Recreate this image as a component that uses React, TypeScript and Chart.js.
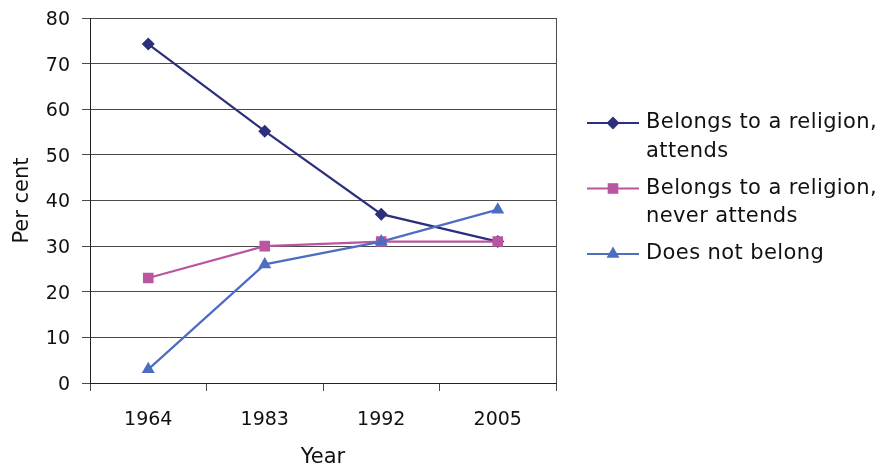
import React, { useEffect, useRef } from "react";
import { Chart, registerables } from "chart.js";

Chart.register(...registerables);

const years = ["1964", "1983", "1992", "2005"];
const attends = [74.3, 55.2, 37, 31];
const neverAttends = [23, 30, 31, 31];
const doesNotBelong = [3, 26, 31, 38];
const seriesLabels = [
  ["Belongs to a religion,", "attends"],
  ["Belongs to a religion,", "never attends"],
  ["Does not belong"],
];
const yMin = 0;
const yMax = 80;
const yStep = 10;
const xTitle = "Year";
const yTitle = "Per cent";

const NAVY = "#2C2F7C";
const PINK = "#BA55A0";
const BLUE = "#4D6EC0";
const GRID = "#4a4a4a";
const FONT = "'DejaVu Sans', sans-serif";

function drawMarker(ctx: CanvasRenderingContext2D, style: string, x: number, y: number, r: number, color: string) {
  ctx.save();
  ctx.fillStyle = color;
  ctx.beginPath();
  if (style === "rectRot") {
    ctx.moveTo(x, y - r);
    ctx.lineTo(x + r, y);
    ctx.lineTo(x, y + r);
    ctx.lineTo(x - r, y);
  } else if (style === "rect") {
    const s = Math.SQRT1_2 * r;
    ctx.rect(x - s, y - s, 2 * s, 2 * s);
  } else {
    ctx.moveTo(x, y - r);
    ctx.lineTo(x + r * Math.sin(Math.PI / 3), y + r / 2);
    ctx.lineTo(x - r * Math.sin(Math.PI / 3), y + r / 2);
  }
  ctx.closePath();
  ctx.fill();
  ctx.restore();
}

const frameAndLegend = {
  id: "frameAndLegend",
  beforeDatasetsDraw(chart: any) {
    const { ctx, chartArea } = chart;
    ctx.save();
    ctx.strokeStyle = GRID;
    ctx.lineWidth = 1;
    ctx.beginPath();
    const x = Math.round(chartArea.right) + 0.5;
    ctx.moveTo(x, chartArea.top);
    ctx.lineTo(x, chartArea.bottom);
    ctx.stroke();
    ctx.restore();
  },
  afterDraw(chart: any) {
    const { ctx } = chart;
    const x0 = 587;
    const x1 = 639;
    const tx = 646;
    const lineH = 28.5;
    const gap = 8.5;
    let y = 123;
    ctx.save();
    ctx.font = `21px ${FONT}`;
    (ctx as any).letterSpacing = "0.4px";
    ctx.textBaseline = "middle";
    ctx.textAlign = "left";
    chart.data.datasets.forEach((ds: any, i: number) => {
      ctx.strokeStyle = ds.borderColor;
      ctx.lineWidth = ds.borderWidth;
      ctx.beginPath();
      ctx.moveTo(x0, y);
      ctx.lineTo(x1, y);
      ctx.stroke();
      drawMarker(ctx, ds.pointStyle, (x0 + x1) / 2, y, ds.pointRadius, ds.pointBackgroundColor);
      ctx.fillStyle = "#111";
      const lines = seriesLabels[i];
      lines.forEach((t, j) => {
        ctx.fillText(t, tx, y + j * lineH);
      });
      y += lines.length * lineH + gap;
    });
    ctx.restore();
  },
};

export default function App() {
  const ref = useRef<HTMLCanvasElement | null>(null);
  useEffect(() => {
    document.body.style.margin = "0";
    const canvas = ref.current!;
    const chart = new Chart(canvas, {
      type: "line",
      data: {
        labels: years,
        datasets: [
          {
            label: seriesLabels[0].join(" "),
            data: attends,
            order: 2,
            borderColor: NAVY,
            backgroundColor: NAVY,
            pointBackgroundColor: NAVY,
            pointBorderColor: NAVY,
            pointStyle: "rectRot",
            pointRadius: 6.5,
            pointBorderWidth: 0,
            borderWidth: 2.2,
            tension: 0,
          },
          {
            label: seriesLabels[1].join(" "),
            data: neverAttends,
            order: 1,
            borderColor: PINK,
            backgroundColor: PINK,
            pointBackgroundColor: PINK,
            pointBorderColor: PINK,
            pointStyle: "rect",
            pointRadius: 7.5,
            pointBorderWidth: 0,
            borderWidth: 2.2,
            tension: 0,
          },
          {
            label: seriesLabels[2].join(" "),
            data: doesNotBelong,
            order: 0,
            borderColor: BLUE,
            backgroundColor: BLUE,
            pointBackgroundColor: BLUE,
            pointBorderColor: BLUE,
            pointStyle: "triangle",
            pointRadius: 7.5,
            pointBorderWidth: 0,
            borderWidth: 2.2,
            tension: 0,
          },
        ],
      },
      options: {
        responsive: false,
        animation: false,
        events: [],
        layout: { padding: { top: 18, right: 321, bottom: 0, left: 0 } },
        plugins: { legend: { display: false }, tooltip: { enabled: false } },
        scales: {
          x: {
            type: "category",
            offset: true,
            afterFit: (s: any) => {
              s.height = 87;
            },
            grid: {
              offset: true,
              drawOnChartArea: false,
              drawTicks: true,
              tickLength: 8,
              color: GRID,
            },
            border: { display: true, color: "#222", width: 1 },
            ticks: {
              color: "#111",
              font: { family: FONT, size: 19 },
              padding: 18,
              maxRotation: 0,
            },
            title: {
              display: true,
              text: xTitle,
              color: "#111",
              font: { family: FONT, size: 21 },
              padding: { top: -2, bottom: 0 },
            },
          },
          y: {
            min: yMin,
            max: yMax,
            afterFit: (s: any) => {
              s.width = 90;
              s.paddingTop = 0;
              s.paddingBottom = 0;
            },
            grid: {
              color: GRID,
              lineWidth: 1,
              drawTicks: true,
              tickLength: 8,
            },
            border: { display: true, color: "#222", width: 1 },
            ticks: {
              stepSize: yStep,
              color: "#111",
              font: { family: FONT, size: 19 },
              padding: 12,
              labelOffset: 2,
            },
            title: {
              display: true,
              text: yTitle,
              color: "#111",
              font: { family: FONT, size: 21 },
              padding: { top: 10, bottom: 0 },
            },
          },
        },
      },
      plugins: [frameAndLegend],
    });
    return () => chart.destroy();
  }, []);
  return (
    <div style={{ position: "absolute", left: 0, top: 0, width: 877, height: 470, background: "#fff" }}>
      <canvas ref={ref} width={877} height={470} />
    </div>
  );
}
